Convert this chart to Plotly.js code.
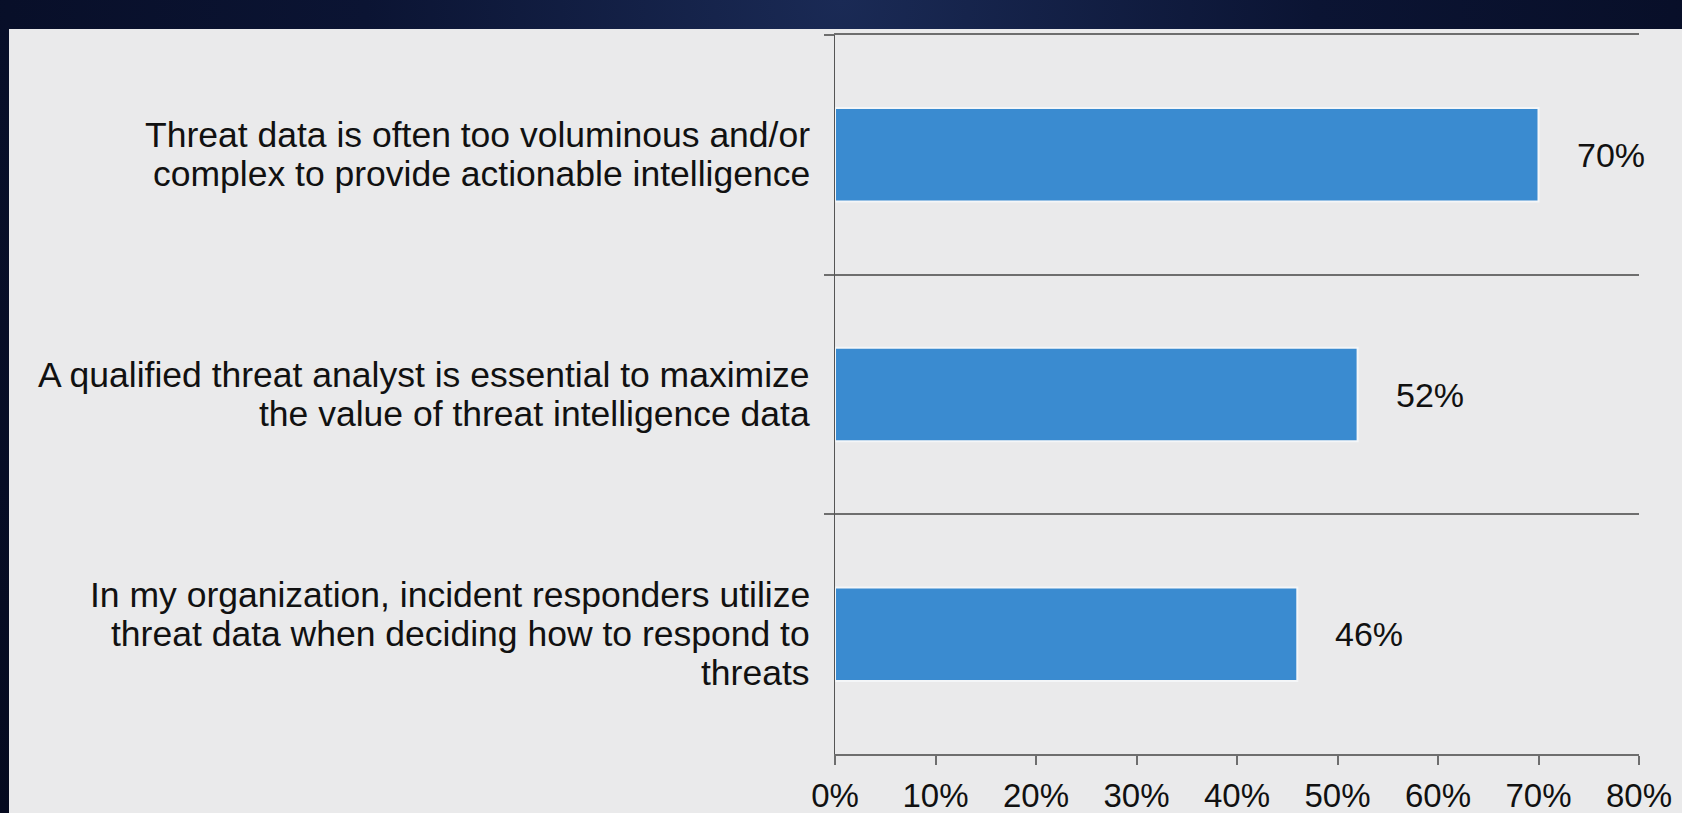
<!DOCTYPE html>
<html>
<head>
<meta charset="utf-8">
<script src="https://cdn.plot.ly/plotly-3.0.1.min.js"></script>
<style>
  html, body { margin: 0; padding: 0; width: 1682px; height: 813px; overflow: hidden;
    background: radial-gradient(ellipse at 50% 0%, #1a2a55 0%, #0b1433 40%, #050a1f 100%); }
  #chart { position: absolute; left: 9px; top: 29px; width: 1673px; height: 784px; background: #eaeaeb; }
</style>
</head>
<body>
<div id="chart"></div>
<script>
// Data
const categories = [
  "Threat data is often too voluminous and/or\ncomplex to provide actionable intelligence",
  "A qualified threat analyst is essential to maximize\nthe value of threat intelligence data",
  "In my organization, incident responders utilize\nthreat data when deciding how to respond to\nthreats"
];
const values = [0.70, 0.52, 0.46];
const valueLabels = ["70%", "52%", "46%"];
const tickValues = [0, 0.1, 0.2, 0.3, 0.4, 0.5, 0.6, 0.7, 0.8];
const tickLabels = ["0%", "10%", "20%", "30%", "40%", "50%", "60%", "70%", "80%"];

const font = "Liberation Sans, Arial, sans-serif";
const textColor = "#111111";
const lineStep = 39;

const trace = {
  type: "bar",
  orientation: "h",
  y: categories,
  x: values,
  marker: { color: "#3a8bd0", line: { color: "#f4f6f8", width: 2 } },
  hoverinfo: "skip"
};

const annotations = [];
values.forEach((v, i) => {
  annotations.push({
    x: v, y: categories[i], xref: "x", yref: "y",
    text: valueLabels[i], showarrow: false,
    xanchor: "left", yanchor: "middle", xshift: 36,
    font: { family: font, size: 34, color: textColor }
  });
});
categories.forEach((c, i) => {
  const lines = c.split("\n");
  const mid = (lines.length - 1) / 2;
  lines.forEach((ln, j) => {
    annotations.push({
      x: 0, y: c, xref: "paper", yref: "y",
      text: ln, showarrow: false, borderpad: 0,
      xanchor: "right", yanchor: "middle",
      xshift: -24, yshift: (mid - j) * lineStep,
      font: { family: font, size: 35.5, color: textColor }
    });
  });
});

const layout = {
  width: 1673, height: 784,
  margin: { l: 826, r: 43, t: 6, b: 59 },
  paper_bgcolor: "rgba(0,0,0,0)",
  plot_bgcolor: "rgba(0,0,0,0)",
  showlegend: false,
  bargap: 0.61,
  xaxis: {
    range: [0, 0.8],
    tickvals: tickValues, ticktext: tickLabels,
    showgrid: false, zeroline: false,
    showline: true, mirror: true, linecolor: "#6e6e6e", linewidth: 2,
    ticks: "outside", ticklen: 9, tickcolor: "#6e6e6e", tickwidth: 2,
    ticklabelstandoff: 2,
    tickfont: { family: font, size: 33, color: textColor },
    fixedrange: true
  },
  yaxis: {
    type: "category",
    autorange: "reversed",
    tickson: "boundaries",
    showticklabels: false,
    showgrid: true, gridcolor: "#6e6e6e", gridwidth: 2,
    showline: true, linecolor: "#555555", linewidth: 1.5,
    ticks: "outside", ticklen: 10, tickcolor: "#6e6e6e", tickwidth: 2,
    fixedrange: true
  },
  annotations: annotations
};

Plotly.newPlot("chart", [trace], layout, { displayModeBar: false, staticPlot: true });
</script>
</body>
</html>
